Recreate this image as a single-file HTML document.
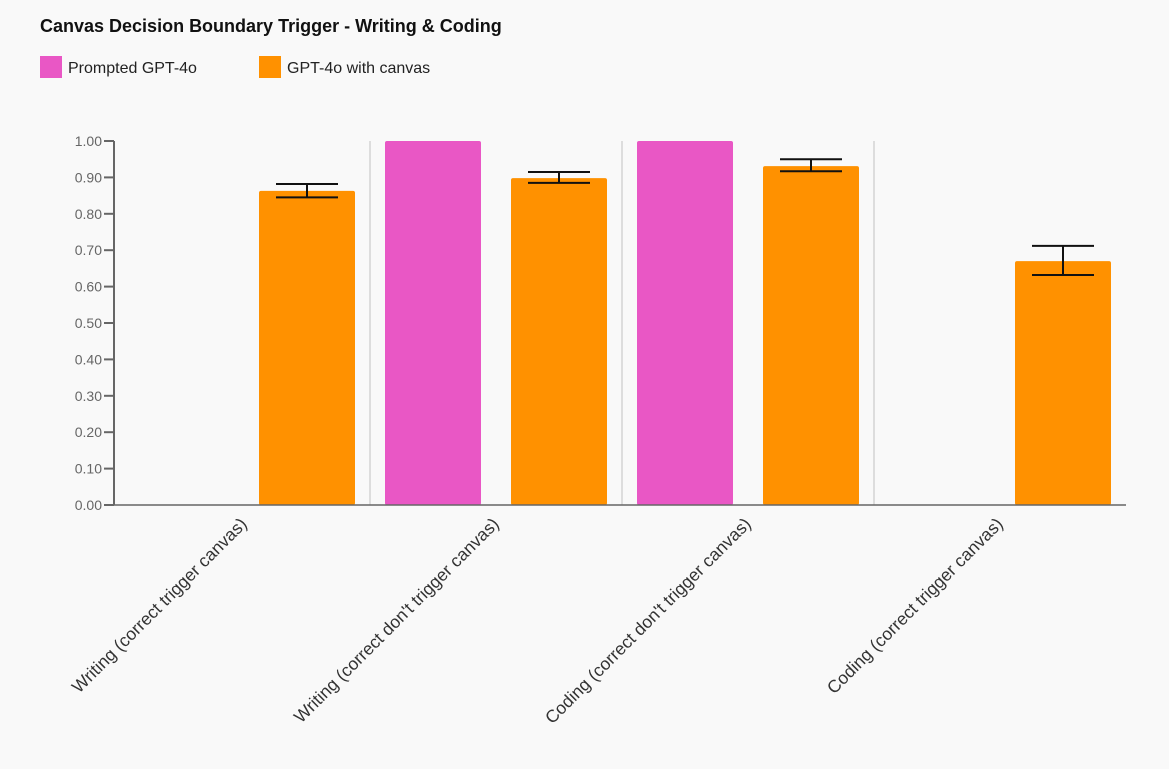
<!DOCTYPE html>
<html><head><meta charset="utf-8"><style>
html,body{margin:0;background:#f9f9f9;font-family:"Liberation Sans",sans-serif;overflow:hidden;}
svg{display:block;}
</style></head><body>
<svg width="1169" height="769" xmlns="http://www.w3.org/2000/svg">
<rect width="1169" height="769" fill="#f9f9f9"/>
<text x="40" y="32" font-size="18" font-weight="bold" fill="#111">Canvas Decision Boundary Trigger - Writing &amp; Coding</text>
<g>
<rect x="40" y="56" width="22" height="22" fill="#e957c5"/>
<text x="68" y="73" font-size="16" fill="#222">Prompted GPT-4o</text>
<rect x="259" y="56" width="22" height="22" fill="#ff9100"/>
<text x="287" y="73" font-size="16" fill="#222">GPT-4o with canvas</text>
</g>
<g id="plot"></g>
</svg>
<script>
const categories=["Writing (correct trigger canvas)","Writing (correct don't trigger canvas)","Coding (correct don't trigger canvas)","Coding (correct trigger canvas)"];
const prompted=[null,1.0,1.0,null];
const canvas=[0.863,0.898,0.931,0.670];
const canvasLow=[0.845,0.885,0.917,0.632];
const canvasHigh=[0.882,0.915,0.950,0.712];
const ticks=[0,0.1,0.2,0.3,0.4,0.5,0.6,0.7,0.8,0.9,1.0];
const NS="http://www.w3.org/2000/svg";
const g=document.getElementById('plot');
const x0=115,x1=1126,y0=505,y1=141;
const gw=252;
const y=v=>y0-(y0-y1)*v;
function mk(t,a,p){const e=document.createElementNS(NS,t);for(const k in a)e.setAttribute(k,a[k]);(p||g).appendChild(e);return e;}
ticks.forEach((t,i)=>{
 const l=mk('line',{x1:104,x2:114,y1:y(t),y2:y(t),stroke:'#666','stroke-width':2});
 
 
 const tx=mk('text',{x:102,y:y(t)+5,'text-anchor':'end','font-size':14,fill:'#666'});
 tx.textContent=t.toFixed(2);
 
 
});
categories.forEach((c,i)=>{
 const gx=x0+i*gw;
 if(i>0){const s=mk('line',{x1:gx+3,x2:gx+3,y1:y1,y2:y0,stroke:'#ddd','stroke-width':2});
  
  }
 if(prompted[i]!=null){
  const b=mk('rect',{x:gx+18,y:y(prompted[i]),width:96,height:y0-y(prompted[i]),fill:'#e957c5',rx:2});
  
  
 }
 const bx=gx+144;
 const b2=mk('rect',{x:bx,y:y(canvas[i]),width:96,height:y0-y(canvas[i]),fill:'#ff9100',rx:2});
 
 
 const cx=bx+48;
 const eg=mk('g',{stroke:'#111','stroke-width':2});
 
 
 mk('line',{x1:cx,x2:cx,y1:y(canvasHigh[i]),y2:y(canvasLow[i])},eg);
 mk('line',{x1:cx-31,x2:cx+31,y1:y(canvasHigh[i]),y2:y(canvasHigh[i])},eg);
 mk('line',{x1:cx-31,x2:cx+31,y1:y(canvasLow[i]),y2:y(canvasLow[i])},eg);
 const lx=gx+gw/2+7;
 const t=mk('text',{x:lx,y:525,'text-anchor':'end','font-size':17.5,fill:'#333',transform:`rotate(-45 ${lx} 525)`});
 t.textContent=c;
 
 
});
const ax=mk('line',{x1:114,x2:114,y1:y1,y2:y0,stroke:'#666','stroke-width':2});


const bx=mk('line',{x1:114,x2:x1,y1:y0,y2:y0,stroke:'#666','stroke-width':1.5});


</script>
</body></html>
